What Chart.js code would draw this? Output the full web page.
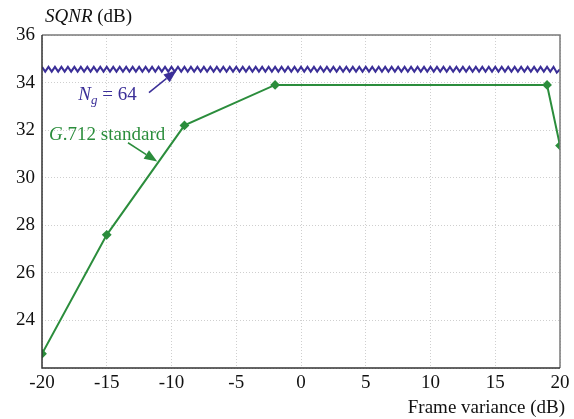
<!DOCTYPE html>
<html lang="en">
<head>
  <meta charset="UTF-8">
  <title>SQNR vs frame variance</title>
  <script src="https://cdn.jsdelivr.net/npm/chart.js"></script>
  <style>
    body { margin: 0; background: #fff; }
    #wrap { width: 574px; height: 419px; position: relative; }
  </style>
</head>
<body>
  <div id="wrap"><canvas id="sqnrChart"></canvas></div>

  <script>
    // DATA - G.712 standard
    const frameVar = [-20, -15, -9, -2, 19, 20];
    const sqnrG712 = [22.6, 27.6, 32.2, 33.9, 33.9, 31.35];

    // DATA - N_g = 64 (zigzag curve)
    const zigX = [
      -20,-19.75,-19.5,-19.25,-19,-18.75,-18.5,-18.25,-18,-17.75,-17.5,-17.25,-17,-16.75,-16.5,-16.25,
      -16,-15.75,-15.5,-15.25,-15,-14.75,-14.5,-14.25,-14,-13.75,-13.5,-13.25,-13,-12.75,-12.5,-12.25,
      -12,-11.75,-11.5,-11.25,-11,-10.75,-10.5,-10.25,-10,-9.75,-9.5,-9.25,-9,-8.75,-8.5,-8.25,
      -8,-7.75,-7.5,-7.25,-7,-6.75,-6.5,-6.25,-6,-5.75,-5.5,-5.25,-5,-4.75,-4.5,-4.25,
      -4,-3.75,-3.5,-3.25,-3,-2.75,-2.5,-2.25,-2,-1.75,-1.5,-1.25,-1,-0.75,-0.5,-0.25,
      0,0.25,0.5,0.75,1,1.25,1.5,1.75,2,2.25,2.5,2.75,3,3.25,3.5,3.75,
      4,4.25,4.5,4.75,5,5.25,5.5,5.75,6,6.25,6.5,6.75,7,7.25,7.5,7.75,
      8,8.25,8.5,8.75,9,9.25,9.5,9.75,10,10.25,10.5,10.75,11,11.25,11.5,11.75,
      12,12.25,12.5,12.75,13,13.25,13.5,13.75,14,14.25,14.5,14.75,15,15.25,15.5,15.75,
      16,16.25,16.5,16.75,17,17.25,17.5,17.75,18,18.25,18.5,18.75,19,19.25,19.5,19.75,
      20
    ];
    const zigY = [
      34.66,34.46,34.66,34.46,34.66,34.46,34.66,34.46,34.66,34.46,34.66,34.46,34.66,34.46,34.66,34.46,
      34.66,34.46,34.66,34.46,34.66,34.46,34.66,34.46,34.66,34.46,34.66,34.46,34.66,34.46,34.66,34.46,
      34.66,34.46,34.66,34.46,34.66,34.46,34.66,34.46,34.66,34.46,34.66,34.46,34.66,34.46,34.66,34.46,
      34.66,34.46,34.66,34.46,34.66,34.46,34.66,34.46,34.66,34.46,34.66,34.46,34.66,34.46,34.66,34.46,
      34.66,34.46,34.66,34.46,34.66,34.46,34.66,34.46,34.66,34.46,34.66,34.46,34.66,34.46,34.66,34.46,
      34.66,34.46,34.66,34.46,34.66,34.46,34.66,34.46,34.66,34.46,34.66,34.46,34.66,34.46,34.66,34.46,
      34.66,34.46,34.66,34.46,34.66,34.46,34.66,34.46,34.66,34.46,34.66,34.46,34.66,34.46,34.66,34.46,
      34.66,34.46,34.66,34.46,34.66,34.46,34.66,34.46,34.66,34.46,34.66,34.46,34.66,34.46,34.66,34.46,
      34.66,34.46,34.66,34.46,34.66,34.46,34.66,34.46,34.66,34.46,34.66,34.46,34.66,34.46,34.66,34.46,
      34.66,34.46,34.66,34.46,34.66,34.46,34.66,34.46,34.66,34.46,34.66,34.46,34.66,34.46,34.66,34.42,
      34.56
    ];

    const GREEN = '#2b8d3c';
    const BLUE = '#3b2f98';
    const FONT = 'Liberation Serif';

    // annotations, titles and frame
    const extras = {
      id: 'extras',
      afterDraw(chart) {
        const { ctx, chartArea: a, scales: { x, y } } = chart;
        ctx.save();

        // frame
        ctx.lineWidth = 1.5;
        ctx.strokeStyle = '#7a7a7a';
        ctx.beginPath();
        ctx.moveTo(a.left, a.top); ctx.lineTo(a.right, a.top); ctx.lineTo(a.right, a.bottom);
        ctx.stroke();
        ctx.strokeStyle = '#333';
        ctx.beginPath();
        ctx.moveTo(a.left, a.top); ctx.lineTo(a.left, a.bottom); ctx.lineTo(a.right, a.bottom);
        ctx.stroke();

        // axis titles
        ctx.fillStyle = '#111';
        ctx.textBaseline = 'alphabetic';
        ctx.textAlign = 'left';
        ctx.font = 'italic 19px ' + FONT;
        ctx.fillText('SQNR', 45, 22);
        let w = ctx.measureText('SQNR').width;
        ctx.font = '19px ' + FONT;
        ctx.fillText(' (dB)', 45 + w, 22);
        ctx.textAlign = 'right';
        ctx.fillText('Frame variance (dB)', 565, 413);

        // arrows
        const arrow = (x0, y0, x1, y1, color) => {
          const px0 = x.getPixelForValue(x0), py0 = y.getPixelForValue(y0);
          const px1 = x.getPixelForValue(x1), py1 = y.getPixelForValue(y1);
          const ang = Math.atan2(py1 - py0, px1 - px0);
          const len = 13, half = 5;
          const bx = px1 - len * Math.cos(ang), by = py1 - len * Math.sin(ang);
          ctx.strokeStyle = color; ctx.fillStyle = color; ctx.lineWidth = 1.5;
          ctx.beginPath(); ctx.moveTo(px0, py0); ctx.lineTo(bx, by); ctx.stroke();
          ctx.beginPath();
          ctx.moveTo(px1, py1);
          ctx.lineTo(bx + half * Math.sin(ang), by - half * Math.cos(ang));
          ctx.lineTo(bx - half * Math.sin(ang), by + half * Math.cos(ang));
          ctx.closePath(); ctx.fill();
        };
        arrow(-11.74, 33.58, -9.6, 34.52, BLUE);
        arrow(-13.36, 31.47, -11.1, 30.68, GREEN);

        // labels
        ctx.textAlign = 'left';
        let lx = x.getPixelForValue(-17.2), ly = y.getPixelForValue(33.28);
        ctx.fillStyle = BLUE;
        ctx.font = 'italic 19px ' + FONT;
        ctx.fillText('N', lx, ly);
        lx += ctx.measureText('N').width;
        ctx.font = 'italic 13px ' + FONT;
        ctx.fillText('g', lx, ly + 4);
        lx += ctx.measureText('g').width;
        ctx.font = '19px ' + FONT;
        ctx.fillText(' = 64', lx, ly);

        lx = x.getPixelForValue(-19.45); ly = y.getPixelForValue(31.6);
        ctx.fillStyle = GREEN;
        ctx.font = 'italic 19px ' + FONT;
        ctx.fillText('G', lx, ly);
        lx += ctx.measureText('G').width;
        ctx.font = '19px ' + FONT;
        ctx.fillText('.712 standard', lx, ly);

        ctx.restore();
      }
    };

    new Chart(document.getElementById('sqnrChart'), {
      type: 'line',
      data: {
        datasets: [{
          label: 'N_g = 64',
          data: zigX.map((v, i) => ({ x: v, y: zigY[i] })),
          borderColor: BLUE,
          borderWidth: 2,
          pointRadius: 0,
          tension: 0
        }, {
          label: 'G.712 standard',
          data: frameVar.map((v, i) => ({ x: v, y: sqnrG712[i] })),
          borderColor: GREEN,
          backgroundColor: GREEN,
          borderWidth: 2,
          pointStyle: 'rectRot',
          pointRadius: 3.5,
          tension: 0
        }]
      },
      options: {
        responsive: true,
        maintainAspectRatio: false,
        animation: false,
        events: [],
        layout: { padding: { top: 35, right: 14, left: 0, bottom: 0 } },
        plugins: { legend: { display: false }, tooltip: { enabled: false } },
        scales: {
          x: {
            type: 'linear', min: -20, max: 20,
            afterFit: s => { s.height = 51; },
            ticks: { stepSize: 5, padding: 4, color: '#111', font: { family: FONT, size: 19 } },
            grid: { color: '#cfcfcf', drawTicks: false },
            border: { display: false, dash: [1, 2] }
          },
          y: {
            min: 22, max: 36,
            afterFit: s => { s.width = 42; },
            ticks: {
              stepSize: 2, padding: 7, color: '#111', font: { family: FONT, size: 19 },
              callback: v => v === 22 ? '' : v
            },
            grid: { color: '#cfcfcf', drawTicks: false },
            border: { display: false, dash: [1, 2] }
          }
        }
      },
      plugins: [extras]
    });
  </script>
</body>
</html>
